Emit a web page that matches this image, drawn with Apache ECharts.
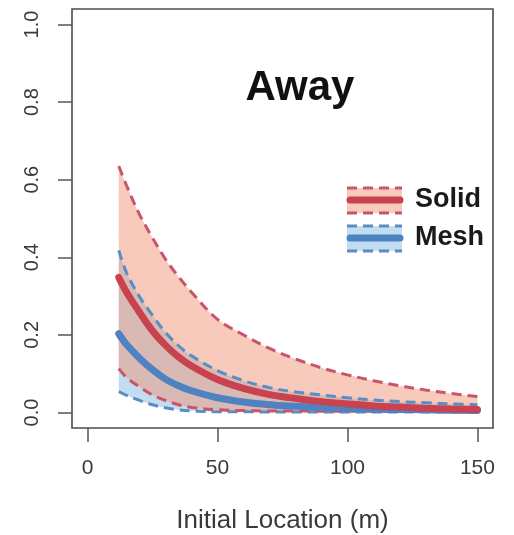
<!DOCTYPE html>
<html>
<head>
<meta charset="utf-8">
<script src="https://cdn.jsdelivr.net/npm/echarts@6/dist/echarts.min.js"></script>
<style>
  html, body { margin: 0; padding: 0; background: #fff; }
  #chart { width: 514px; height: 535px; }
</style>
</head>
<body>
<div id="chart"></div>
<script>
// 数据
var locations = [12, 15, 20, 25, 30, 35, 40, 50, 60, 70, 80, 90, 100, 110, 120, 130, 140, 150];

var solidMean  = [0.348, 0.31, 0.258, 0.21, 0.173, 0.143, 0.12, 0.085, 0.062, 0.046, 0.036, 0.028, 0.022, 0.017, 0.014, 0.011, 0.009, 0.008];
var solidUpper = [0.635, 0.585, 0.51, 0.45, 0.395, 0.35, 0.31, 0.24, 0.2, 0.165, 0.138, 0.115, 0.097, 0.082, 0.069, 0.058, 0.049, 0.041];
var solidLower = [0.113, 0.09, 0.066, 0.045, 0.031, 0.02, 0.013, 0.007, 0.005, 0.004, 0.004, 0.003, 0.003, 0.003, 0.003, 0.003, 0.003, 0.003];

var meshMean  = [0.203, 0.175, 0.14, 0.11, 0.086, 0.069, 0.056, 0.038, 0.027, 0.02, 0.016, 0.013, 0.011, 0.009, 0.008, 0.007, 0.006, 0.005];
var meshUpper = [0.418, 0.36, 0.298, 0.25, 0.206, 0.172, 0.146, 0.108, 0.082, 0.064, 0.053, 0.045, 0.038, 0.032, 0.028, 0.025, 0.022, 0.02];
var meshLower = [0.054, 0.044, 0.031, 0.02, 0.012, 0.007, 0.004, 0.002, 0.002, 0.001, 0.001, 0.001, 0.001, 0.001, 0.001, 0.001, 0.001, 0.001];

var xTicks = [0, 50, 100, 150];
var yTicks = [0, 0.2, 0.4, 0.6, 0.8, 1.0];

var FONT = 'Liberation Sans, Arial, Helvetica, sans-serif';
var RED = '#c8424f';
var RED_DASH = '#c9556a';
var BLUE = '#4f82c0';
var BLUE_DASH = '#5a8cc6';
var RED_FILL = 'rgba(240,150,120,0.5)';
var BLUE_FILL = 'rgba(120,180,222,0.45)';

function pairs(arr) {
    var out = [];
    for (var i = 0; i < locations.length; i++) {
        out.push([locations[i], arr[i]]);
    }
    return out;
}
// y 放在第一维，这样 stack 叠加的是 y 而不是 x
function pairsYX(arr) {
    var out = [];
    for (var i = 0; i < locations.length; i++) {
        out.push([arr[i], locations[i]]);
    }
    return out;
}
function width(up, low) {
    var out = [];
    for (var i = 0; i < up.length; i++) {
        out.push(+(up[i] - low[i]).toFixed(4));
    }
    return out;
}

function lineSeries(extra) {
    var s = {
        type: 'line',
        showSymbol: false,
        symbol: 'none',
        smooth: 0.35,
        silent: true,
        z: 2
    };
    for (var k in extra) s[k] = extra[k];
    return s;
}

// 置信带：下界(透明) + 宽度(填充)
function band(name, low, up, fill) {
    return [
        lineSeries({ stack: name, encode: { x: 1, y: 0 }, data: pairsYX(low), lineStyle: { opacity: 0 } }),
        lineSeries({ stack: name, encode: { x: 1, y: 0 }, data: pairsYX(width(up, low)), lineStyle: { opacity: 0 },
            areaStyle: { color: fill, opacity: 1 } })
    ];
}
function line(arr, color, w, dashed) {
    return lineSeries({
        data: pairs(arr),
        z: 3,
        lineStyle: { color: color, width: w, type: dashed ? [10, 6] : 'solid', cap: dashed ? 'butt' : 'round' }
    });
}

var series = []
    .concat(band('mesh', meshLower, meshUpper, BLUE_FILL))
    .concat(band('solid', solidLower, solidUpper, RED_FILL))
    .concat([
        line(meshLower, BLUE_DASH, 3, true),
        line(meshUpper, BLUE_DASH, 3, true),
        line(solidLower, RED_DASH, 3, true),
        line(solidUpper, RED_DASH, 3, true),
        line(meshMean, BLUE, 7, false),
        line(solidMean, RED, 7, false)
    ]);

// 图例
function legendItem(y, fill, dashColor, lineColor, label) {
    return [
        { type: 'rect', z: 100, shape: { x: 347, y: y - 12, width: 55, height: 25 }, style: { fill: fill } },
        { type: 'line', z: 101, shape: { x1: 347, y1: y - 12, x2: 402, y2: y - 12 },
          style: { stroke: dashColor, lineWidth: 3, lineDash: [10, 6] } },
        { type: 'line', z: 101, shape: { x1: 347, y1: y + 13, x2: 402, y2: y + 13 },
          style: { stroke: dashColor, lineWidth: 3, lineDash: [10, 6] } },
        { type: 'line', z: 102, shape: { x1: 350, y1: y, x2: 400, y2: y },
          style: { stroke: lineColor, lineWidth: 7, lineCap: 'round' } },
        { type: 'text', z: 102, x: 415, y: y, style: { text: label, fill: '#1a1a1a',
          font: 'bold 27px ' + FONT, textVerticalAlign: 'middle' } }
    ];
}

var option = {
    animation: false,
    grid: { left: 72, top: 9, width: 421, height: 419, outerBoundsMode: 'none',
        show: true, borderColor: '#4d4d4d', borderWidth: 1.6 },
    xAxis: {
        type: 'value', min: -6, max: 156,
        name: 'Initial Location (m)', nameLocation: 'middle', nameGap: 80,
        nameTextStyle: { fontFamily: FONT, fontSize: 26, color: '#3a3a3a' },
        axisLine: { show: false, onZero: false },
        splitLine: { show: false },
        axisTick: { show: true, customValues: xTicks, length: 14, lineStyle: { color: '#555', width: 1.5 } },
        axisLabel: { customValues: xTicks, margin: 30, fontFamily: FONT, fontSize: 21, color: '#3a3a3a' }
    },
    yAxis: {
        type: 'value', min: -0.04, max: 1.04,
        axisLine: { show: false, onZero: false },
        splitLine: { show: false },
        axisTick: { show: true, customValues: yTicks, length: 14, lineStyle: { color: '#555', width: 1.5 } },
        axisLabel: { customValues: yTicks, margin: 30, rotate: 90, fontFamily: FONT, fontSize: 20, color: '#3a3a3a',
            formatter: function (v) { return v.toFixed(1); } }
    },
    graphic: [
        { type: 'text', z: 100, x: 300, y: 88, style: { text: 'Away', fill: '#111', font: 'bold 42px ' + FONT,
          textAlign: 'center', textVerticalAlign: 'middle' } }
    ].concat(legendItem(200, RED_FILL, RED_DASH, RED, 'Solid'))
     .concat(legendItem(238, BLUE_FILL, BLUE_DASH, BLUE, 'Mesh')),
    series: series
};

var myChart = echarts.init(document.getElementById('chart'));
myChart.setOption(option);
</script>
</body>
</html>
